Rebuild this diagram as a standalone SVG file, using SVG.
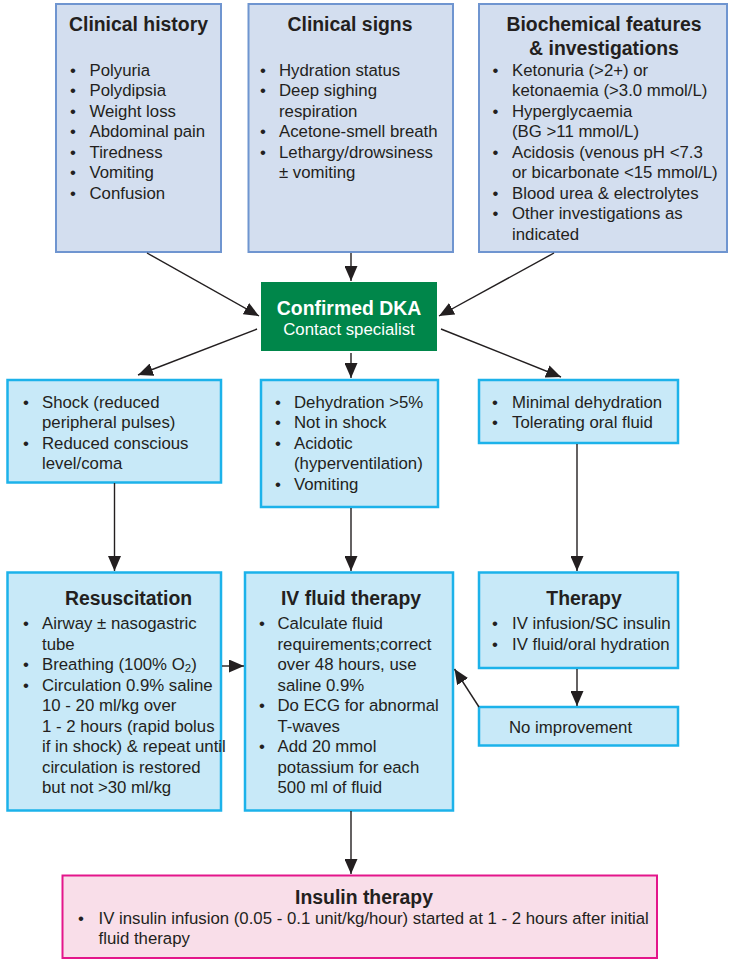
<svg xmlns="http://www.w3.org/2000/svg" width="731" height="960" viewBox="0 0 731 960">
<defs>
<style>
text{font-family:"Liberation Sans",Arial,sans-serif;fill:#231f20;font-size:16.8px}
.t{font-weight:bold;font-size:19.4px;text-anchor:middle}
.w{fill:#ffffff}
.top{fill:#d3deef;stroke:#6f95d0;stroke-width:2}
.cy{fill:#c8e9f8;stroke:#1cb2ea;stroke-width:2.5}
.pk{fill:#f9dee9;stroke:#e4168b;stroke-width:2}
.gr{fill:#00864a}
.c line{stroke:#231f20;stroke-width:1.4;marker-end:url(#ah)}
</style>
<marker id="ah" markerUnits="userSpaceOnUse" markerWidth="15" markerHeight="13" viewBox="0 0 15 13" refX="15" refY="6.5" orient="auto">
<path d="M0,0 L15,6.5 L0,13 Z" fill="#231f20"/>
</marker>
</defs>
<rect width="731" height="960" fill="#ffffff"/>

<g id="history">
<rect class="top" x="56" y="4" width="165" height="248"/>
<text class="t" x="138.5" y="31">Clinical history</text>
<text x="70" y="75.5">•</text><text x="89.5" y="75.5">Polyuria</text>
<text x="70" y="96">•</text><text x="89.5" y="96">Polydipsia</text>
<text x="70" y="116.5">•</text><text x="89.5" y="116.5">Weight loss</text>
<text x="70" y="137">•</text><text x="89.5" y="137">Abdominal pain</text>
<text x="70" y="157.5">•</text><text x="89.5" y="157.5">Tiredness</text>
<text x="70" y="178">•</text><text x="89.5" y="178">Vomiting</text>
<text x="70" y="198.5">•</text><text x="89.5" y="198.5">Confusion</text>
</g>

<g id="signs">
<rect class="top" x="248.5" y="4" width="204.5" height="248"/>
<text class="t" x="350" y="31">Clinical signs</text>
<text x="260" y="75.5">•</text><text x="279" y="75.5">Hydration status</text>
<text x="260" y="96">•</text><text x="279" y="96">Deep sighing</text>
<text x="279" y="116.5">respiration</text>
<text x="260" y="137">•</text><text x="279" y="137">Acetone-smell breath</text>
<text x="260" y="157.5">•</text><text x="279" y="157.5">Lethargy/drowsiness</text>
<text x="279" y="178">± vomiting</text>
</g>

<g id="biochem">
<rect class="top" x="479" y="4" width="248" height="248"/>
<text class="t" x="604" y="31">Biochemical features</text>
<text class="t" x="604" y="55">&amp; investigations</text>
<text x="492.5" y="75.5">•</text><text x="512" y="75.5">Ketonuria (&gt;2+) or</text>
<text x="512" y="96">ketonaemia (&gt;3.0 mmol/L)</text>
<text x="492.5" y="116.5">•</text><text x="512" y="116.5">Hyperglycaemia</text>
<text x="512" y="137">(BG &gt;11 mmol/L)</text>
<text x="492.5" y="157.5">•</text><text x="512" y="157.5">Acidosis (venous pH &lt;7.3</text>
<text x="512" y="178">or bicarbonate &lt;15 mmol/L)</text>
<text x="492.5" y="198.5">•</text><text x="512" y="198.5">Blood urea &amp; electrolytes</text>
<text x="492.5" y="219">•</text><text x="512" y="219">Other investigations as</text>
<text x="512" y="239.5">indicated</text>
</g>

<g id="dka">
<rect class="gr" x="261" y="282" width="176" height="69"/>
<text class="t w" x="349" y="314.5">Confirmed DKA</text>
<text class="w" x="349" y="335" text-anchor="middle">Contact specialist</text>
</g>

<g id="shock">
<rect class="cy" x="7.5" y="380" width="213.5" height="102.5"/>
<text x="23" y="407.5">•</text><text x="42" y="407.5">Shock (reduced</text>
<text x="42" y="428">peripheral pulses)</text>
<text x="23" y="448.5">•</text><text x="42" y="448.5">Reduced conscious</text>
<text x="42" y="469">level/coma</text>
</g>

<g id="dehyd">
<rect class="cy" x="261" y="380" width="177" height="127"/>
<text x="275" y="407.5">•</text><text x="294" y="407.5">Dehydration &gt;5%</text>
<text x="275" y="428">•</text><text x="294" y="428">Not in shock</text>
<text x="275" y="448.5">•</text><text x="294" y="448.5">Acidotic</text>
<text x="294" y="469">(hyperventilation)</text>
<text x="275" y="489.5">•</text><text x="294" y="489.5">Vomiting</text>
</g>

<g id="minimal">
<rect class="cy" x="479" y="380" width="199" height="63"/>
<text x="492" y="407.5">•</text><text x="512" y="407.5">Minimal dehydration</text>
<text x="492" y="428">•</text><text x="512" y="428">Tolerating oral fluid</text>
</g>

<g id="resus">
<rect class="cy" x="7.5" y="572.5" width="213.5" height="238"/>
<text class="t" x="128.5" y="604.5">Resuscitation</text>
<text x="23" y="629">•</text><text x="42" y="629">Airway ± nasogastric</text>
<text x="42" y="649.5">tube</text>
<text x="23" y="670">•</text><text x="42" y="670">Breathing (100% O<tspan font-size="11.5px" dy="2">2</tspan><tspan dy="-2">)</tspan></text>
<text x="23" y="690.5">•</text><text x="42" y="690.5">Circulation 0.9% saline</text>
<text x="42" y="711">10 - 20 ml/kg over</text>
<text x="42" y="731.5">1 - 2 hours (rapid bolus</text>
<text x="42" y="752">if in shock) &amp; repeat until</text>
<text x="42" y="772.5">circulation is restored</text>
<text x="42" y="793">but not &gt;30 ml/kg</text>
</g>

<g id="ivfluid">
<rect class="cy" x="245" y="572.5" width="208" height="238"/>
<text class="t" x="351" y="604.5">IV fluid therapy</text>
<text x="259" y="629">•</text><text x="277.5" y="629">Calculate fluid</text>
<text x="277.5" y="649.5">requirements;correct</text>
<text x="277.5" y="670">over 48 hours, use</text>
<text x="277.5" y="690.5">saline 0.9%</text>
<text x="259" y="711">•</text><text x="277.5" y="711">Do ECG for abnormal</text>
<text x="277.5" y="731.5">T-waves</text>
<text x="259" y="752">•</text><text x="277.5" y="752">Add 20 mmol</text>
<text x="277.5" y="772.5">potassium for each</text>
<text x="277.5" y="793">500 ml of fluid</text>
</g>

<g id="therapy">
<rect class="cy" x="479" y="572.5" width="199" height="95.5"/>
<text class="t" x="584" y="604.5">Therapy</text>
<text x="492" y="629">•</text><text x="512" y="629">IV infusion/SC insulin</text>
<text x="492" y="649.5">•</text><text x="512" y="649.5">IV fluid/oral hydration</text>
</g>

<g id="noimp">
<rect class="cy" x="479" y="707" width="199" height="38.5"/>
<text x="509" y="732.5">No improvement</text>
</g>

<g id="insulin">
<rect class="pk" x="62.5" y="875.5" width="594.5" height="82.5"/>
<text class="t" x="364" y="903.5">Insulin therapy</text>
<text x="78" y="924">•</text><text x="98.5" y="924">IV insulin infusion (0.05 - 0.1 unit/kg/hour) started at 1 - 2 hours after initial</text>
<text x="98.5" y="944">fluid therapy</text>
</g>

<g id="connectors" class="c">
<line x1="147" y1="253" x2="259" y2="316"/>
<line x1="351" y1="253" x2="351" y2="281"/>
<line x1="554" y1="253" x2="439" y2="316"/>
<line x1="257" y1="329" x2="138" y2="375"/>
<line x1="351" y1="353" x2="351" y2="378"/>
<line x1="441" y1="329" x2="561" y2="377"/>
<line x1="114.5" y1="483" x2="114.5" y2="571"/>
<line x1="351" y1="508" x2="351" y2="571"/>
<line x1="577" y1="444" x2="577" y2="571"/>
<line x1="222" y1="666" x2="244" y2="666"/>
<line x1="577" y1="669" x2="577" y2="706"/>
<line x1="479" y1="707" x2="454.5" y2="669"/>
<line x1="351" y1="811" x2="351" y2="874"/>
</g>
</svg>
